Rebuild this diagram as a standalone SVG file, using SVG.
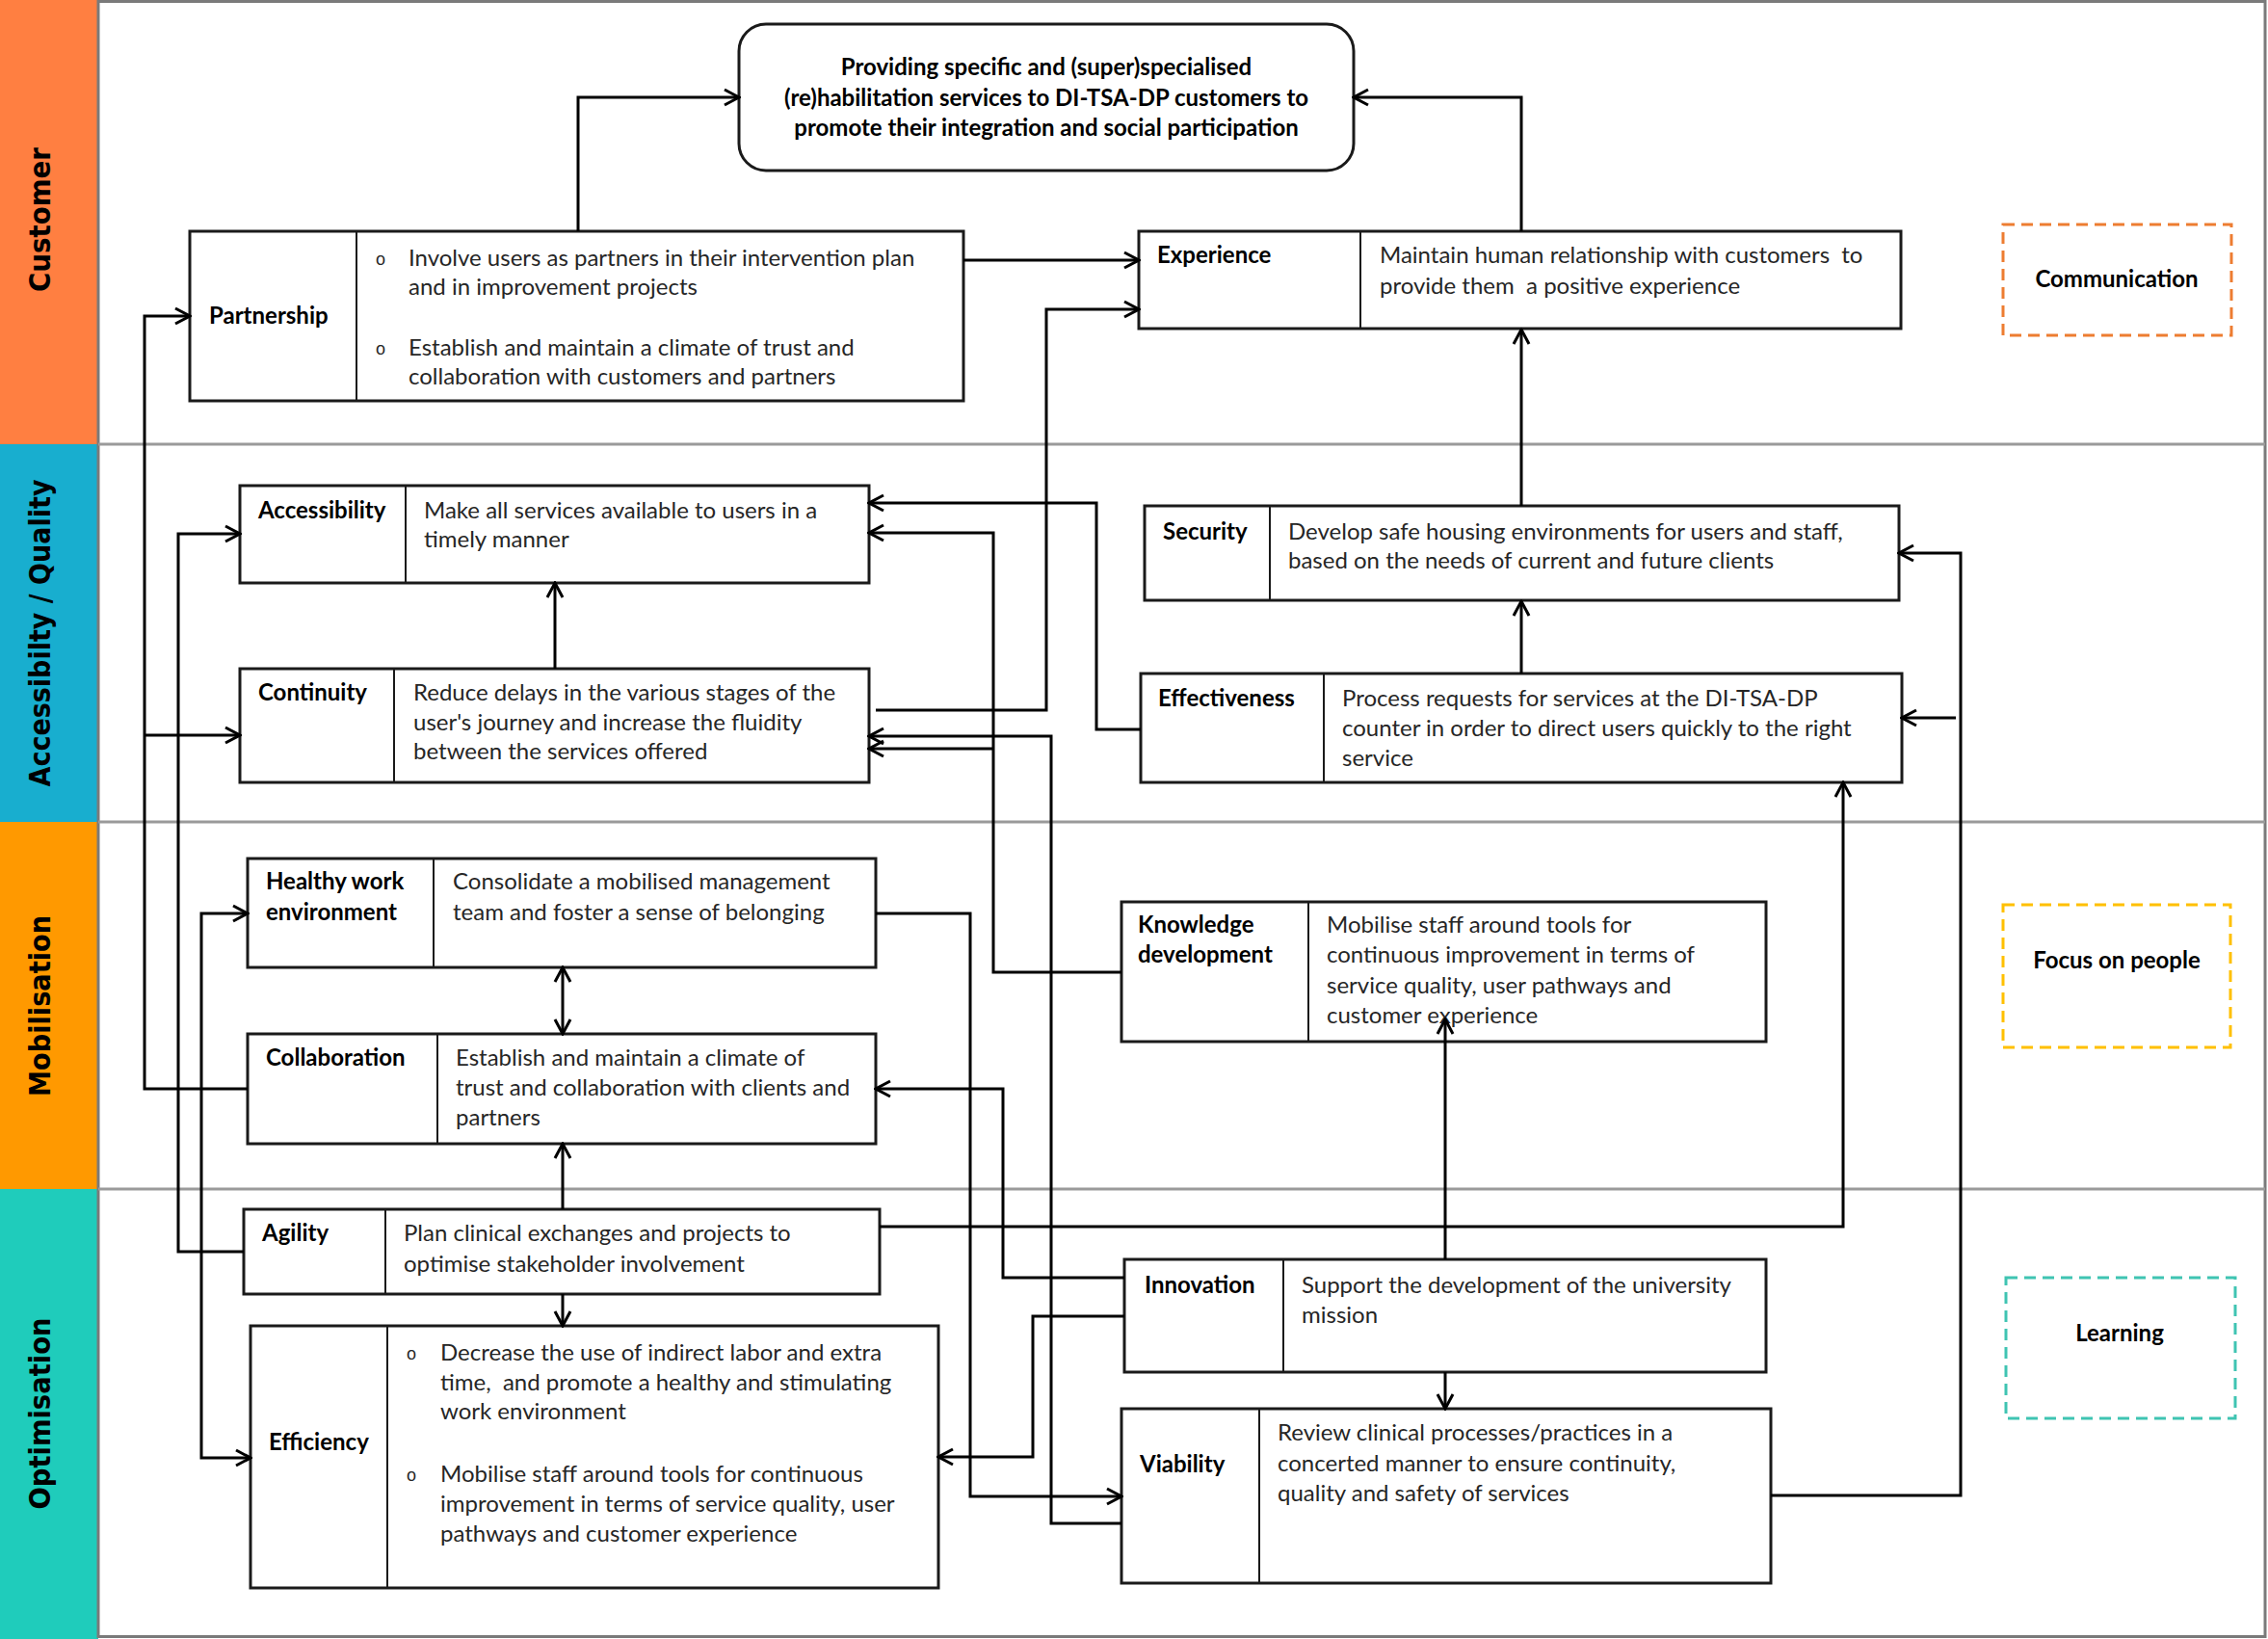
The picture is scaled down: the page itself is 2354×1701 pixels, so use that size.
<svg xmlns="http://www.w3.org/2000/svg" width="2354" height="1701" viewBox="0 0 2354 1701">
<style>
.box{fill:#fff;stroke:#1a1a1a;stroke-width:3}
.div{stroke:#1a1a1a;stroke-width:2}
.t{font-family:Lato,"Liberation Sans",sans-serif;font-size:24px;fill:#262626}
.b{font-family:Lato,"Liberation Sans",sans-serif;font-size:24px;font-weight:bold;fill:#000}
.bul{font-family:"Liberation Sans",sans-serif;font-size:18px;fill:#262626}
.lane{font-family:"DejaVu Sans",Verdana,sans-serif;font-size:30px;font-weight:bold;fill:#000}
.sep{stroke:#9a9a9a;stroke-width:3}
.c{fill:none;stroke:#000;stroke-width:3}
.dash{fill:none;stroke-width:3;stroke-dasharray:12 7}
</style>
<defs>
<marker id="arr" viewBox="0 0 20 20" refX="18" refY="10" markerWidth="20" markerHeight="20" markerUnits="userSpaceOnUse" orient="auto-start-reverse">
<path d="M3,2 L18,10 L3,18" fill="none" stroke="#000" stroke-width="3"/>
</marker>
</defs>
<rect x="0" y="0" width="2354" height="1701" fill="#fff"/>
<g id="lanes">
<rect x="0" y="0" width="102" height="461" fill="#FF7F41"/>
<rect x="0" y="461" width="102" height="392" fill="#18AECF"/>
<rect x="0" y="853" width="102" height="381" fill="#FF9900"/>
<rect x="0" y="1234" width="102" height="467" fill="#1FCCBB"/>
<rect x="102" y="1.5" width="2249" height="1697" fill="none" stroke="#7a7a7a" stroke-width="3"/>
<line class="sep" x1="102" y1="461" x2="2351" y2="461"/>
<line class="sep" x1="102" y1="853" x2="2351" y2="853"/>
<line class="sep" x1="102" y1="1234" x2="2351" y2="1234"/>
<text class="lane" text-anchor="middle" textLength="150" lengthAdjust="spacingAndGlyphs" transform="translate(52,228) rotate(-90)">Customer</text>
<text class="lane" text-anchor="middle" textLength="319" lengthAdjust="spacingAndGlyphs" transform="translate(52,657) rotate(-90)">Accessibilty / Quality</text>
<text class="lane" text-anchor="middle" textLength="188" lengthAdjust="spacingAndGlyphs" transform="translate(52,1044) rotate(-90)">Mobilisation</text>
<text class="lane" text-anchor="middle" textLength="199" lengthAdjust="spacingAndGlyphs" transform="translate(52,1467) rotate(-90)">Optimisation</text>
</g>
<g id="goal">
<rect class="box" x="767" y="25" width="638" height="152" rx="28"/>
<text class="b" text-anchor="middle" x="1086" y="78">Providing specific and (super)specialised</text>
<text class="b" text-anchor="middle" x="1086" y="110">(re)habilitation services to DI-TSA-DP customers to</text>
<text class="b" text-anchor="middle" x="1086" y="141">promote their integration and social participation</text>
</g>
<g id="partnership">
<rect class="box" x="197" y="240" width="803" height="176"/>
<line class="div" x1="370" y1="240" x2="370" y2="416"/>
<text class="b" x="217" y="336">Partnership</text>
<text class="bul" x="390" y="275">o</text>
<text class="t" x="424" y="276">Involve users as partners in their intervention plan</text>
<text class="t" x="424" y="306">and in improvement projects</text>
<text class="bul" x="390" y="368">o</text>
<text class="t" x="424" y="369">Establish and maintain a climate of trust and</text>
<text class="t" x="424" y="399">collaboration with customers and partners</text>
</g>
<g id="experience">
<rect class="box" x="1182" y="240" width="791" height="101"/>
<line class="div" x1="1412" y1="240" x2="1412" y2="341"/>
<text class="b" x="1201" y="273">Experience</text>
<text class="t" x="1432" y="273" xml:space="preserve">Maintain human relationship with customers  to</text>
<text class="t" x="1432" y="305" xml:space="preserve">provide them  a positive experience</text>
</g>
<g id="communication">
<rect class="dash" stroke="#ED7D31" x="2079" y="233" width="237" height="115"/>
<text class="b" text-anchor="middle" x="2197" y="298">Communication</text>
</g>
<g id="accessibility">
<rect class="box" x="249" y="504" width="653" height="101"/>
<line class="div" x1="421" y1="504" x2="421" y2="605"/>
<text class="b" x="268" y="538">Accessibility</text>
<text class="t" x="440" y="538">Make all services available to users in a</text>
<text class="t" x="440" y="568">timely manner</text>
</g>
<g id="continuity">
<rect class="box" x="249" y="694" width="653" height="118"/>
<line class="div" x1="409" y1="694" x2="409" y2="812"/>
<text class="b" x="268" y="727">Continuity</text>
<text class="t" x="429" y="727">Reduce delays in the various stages of the</text>
<text class="t" x="429" y="758">user's journey and increase the fluidity</text>
<text class="t" x="429" y="788">between the services offered</text>
</g>
<g id="security">
<rect class="box" x="1188" y="525" width="783" height="98"/>
<line class="div" x1="1318" y1="525" x2="1318" y2="623"/>
<text class="b" x="1207" y="560">Security</text>
<text class="t" x="1337" y="560">Develop safe housing environments for users and staff,</text>
<text class="t" x="1337" y="590">based on the needs of current and future clients</text>
</g>
<g id="effectiveness">
<rect class="box" x="1184" y="699" width="790" height="113"/>
<line class="div" x1="1374" y1="699" x2="1374" y2="812"/>
<text class="b" x="1202" y="733">Effectiveness</text>
<text class="t" x="1393" y="733">Process requests for services at the DI-TSA-DP</text>
<text class="t" x="1393" y="764">counter in order to direct users quickly to the right</text>
<text class="t" x="1393" y="795">service</text>
</g>
<g id="healthy-work-environment">
<rect class="box" x="257" y="891" width="652" height="113"/>
<line class="div" x1="450" y1="891" x2="450" y2="1004"/>
<text class="b" x="276" y="923">Healthy work</text>
<text class="b" x="276" y="955">environment</text>
<text class="t" x="470" y="923">Consolidate a mobilised management</text>
<text class="t" x="470" y="955">team and foster a sense of belonging</text>
</g>
<g id="collaboration">
<rect class="box" x="257" y="1073" width="652" height="114"/>
<line class="div" x1="454" y1="1073" x2="454" y2="1187"/>
<text class="b" x="276" y="1106">Collaboration</text>
<text class="t" x="473" y="1106">Establish and maintain a climate of</text>
<text class="t" x="473" y="1137">trust and collaboration with clients and</text>
<text class="t" x="473" y="1168">partners</text>
</g>
<g id="knowledge-development">
<rect class="box" x="1164" y="936" width="669" height="145"/>
<line class="div" x1="1358" y1="936" x2="1358" y2="1081"/>
<text class="b" x="1181" y="968">Knowledge</text>
<text class="b" x="1181" y="999">development</text>
<text class="t" x="1377" y="968">Mobilise staff around tools for</text>
<text class="t" x="1377" y="999">continuous improvement in terms of</text>
<text class="t" x="1377" y="1031">service quality, user pathways and</text>
<text class="t" x="1377" y="1062">customer experience</text>
</g>
<g id="focus-on-people">
<rect class="dash" stroke="#FFC000" x="2079" y="939" width="236" height="148"/>
<text class="b" text-anchor="middle" x="2197" y="1005">Focus on people</text>
</g>
<g id="agility">
<rect class="box" x="253" y="1255" width="660" height="88"/>
<line class="div" x1="400" y1="1255" x2="400" y2="1343"/>
<text class="b" x="272" y="1288">Agility</text>
<text class="t" x="419" y="1288">Plan clinical exchanges and projects to</text>
<text class="t" x="419" y="1320">optimise stakeholder involvement</text>
</g>
<g id="efficiency">
<rect class="box" x="260" y="1376" width="714" height="272"/>
<line class="div" x1="402" y1="1376" x2="402" y2="1648"/>
<text class="b" x="279" y="1505">Efficiency</text>
<text class="bul" x="422" y="1411">o</text>
<text class="t" x="457" y="1412" xml:space="preserve">Decrease the use of indirect labor and extra</text>
<text class="t" x="457" y="1443" xml:space="preserve">time,  and promote a healthy and stimulating</text>
<text class="t" x="457" y="1473">work environment</text>
<text class="bul" x="422" y="1537">o</text>
<text class="t" x="457" y="1538">Mobilise staff around tools for continuous</text>
<text class="t" x="457" y="1569">improvement in terms of service quality, user</text>
<text class="t" x="457" y="1600">pathways and customer experience</text>
</g>
<g id="innovation">
<rect class="box" x="1167" y="1307" width="666" height="117"/>
<line class="div" x1="1332" y1="1307" x2="1332" y2="1424"/>
<text class="b" x="1188" y="1342">Innovation</text>
<text class="t" x="1351" y="1342">Support the development of the university</text>
<text class="t" x="1351" y="1373">mission</text>
</g>
<g id="viability">
<rect class="box" x="1164" y="1462" width="674" height="181"/>
<line class="div" x1="1307" y1="1462" x2="1307" y2="1643"/>
<text class="b" x="1183" y="1528">Viability</text>
<text class="t" x="1326" y="1495">Review clinical processes/practices in a</text>
<text class="t" x="1326" y="1527">concerted manner to ensure continuity,</text>
<text class="t" x="1326" y="1558">quality and safety of services</text>
</g>
<g id="learning">
<rect class="dash" stroke="#3FC4B2" x="2082" y="1326" width="238" height="146"/>
<text class="b" text-anchor="middle" x="2200" y="1392">Learning</text>
</g>
<g id="connectors">
<path class="c" marker-end="url(#arr)" d="M600,240 V101 H767"/>
<path class="c" marker-end="url(#arr)" d="M1579,240 V101 H1405"/>
<path class="c" marker-end="url(#arr)" d="M1000,270 H1182"/>
<path class="c" marker-end="url(#arr)" d="M909,737 H1086 V321 H1182"/>
<path class="c" marker-end="url(#arr)" d="M1579,525 V342"/>
<path class="c" marker-end="url(#arr)" d="M1579,699 V624"/>
<path class="c" marker-end="url(#arr)" d="M1184,757 H1138 V522 H902"/>
<path class="c" marker-end="url(#arr)" d="M1164,1009 H1031 V553 H902"/>
<path class="c" marker-end="url(#arr)" d="M1031,777 H902"/>
<path class="c" marker-end="url(#arr)" d="M1164,1581 H1091 V764 H902"/>
<path class="c" marker-end="url(#arr)" d="M576,694 V605"/>
<path class="c" marker-end="url(#arr)" d="M257,1130 H150 V328 H197"/>
<path class="c" marker-end="url(#arr)" d="M150,763 H249"/>
<path class="c" marker-end="url(#arr)" d="M253,1299 H185 V554 H249"/>
<path class="c" marker-start="url(#arr)" marker-end="url(#arr)" d="M257,948 H209 V1513 H260"/>
<path class="c" marker-start="url(#arr)" marker-end="url(#arr)" d="M584,1004 V1073"/>
<path class="c" marker-end="url(#arr)" d="M584,1255 V1187"/>
<path class="c" marker-end="url(#arr)" d="M584,1343 V1376"/>
<path class="c" marker-end="url(#arr)" d="M909,948 H1007 V1553 H1164"/>
<path class="c" marker-end="url(#arr)" d="M913,1273 H1913 V812"/>
<path class="c" marker-end="url(#arr)" d="M1838,1552 H2035 V574 H1971"/>
<path class="c" marker-end="url(#arr)" d="M2030,745 H1974"/>
<path class="c" marker-end="url(#arr)" d="M1500,1307 V1058"/>
<path class="c" marker-end="url(#arr)" d="M1500,1424 V1462"/>
<path class="c" marker-end="url(#arr)" d="M1167,1326 H1041 V1130 H909"/>
<path class="c" marker-end="url(#arr)" d="M1167,1366 H1072 V1512 H974"/>
</g>
</svg>
